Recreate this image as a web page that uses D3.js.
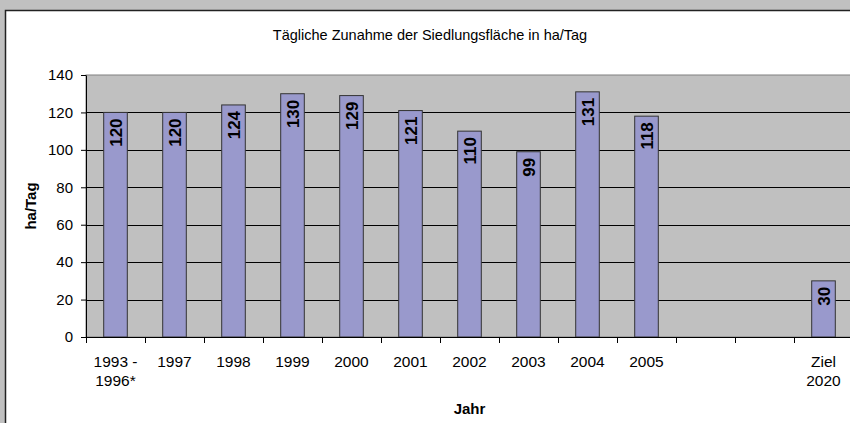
<!DOCTYPE html>
<html>
<head>
<meta charset="utf-8">
<script src="https://cdn.jsdelivr.net/npm/d3@7"></script>
<style>
  body { margin: 0; background: #c0c0c0; }
  svg { display: block; font-family: "Liberation Sans", Arial, sans-serif; }
</style>
</head>
<body>
<svg id="chart" width="850" height="423"></svg>
<script>
const categories = ["1993 -|1996*", "1997", "1998", "1999", "2000", "2001", "2002", "2003", "2004", "2005", "", "", "Ziel|2020"];
const values = [120, 120, 124, 130, 129, 121, 110, 99, 131, 118, null, null, 30];
const yTicks = [0, 20, 40, 60, 80, 100, 120, 140];
const title = "Tägliche Zunahme der Siedlungsfläche in ha/Tag";

const PLOT = { left: 86, right: 853, top: 75, bottom: 337 };

const svg = d3.select("#chart");

// chart area
svg.append("rect")
  .attr("x", 5.5).attr("y", 10.5)
  .attr("width", 900).attr("height", 500)
  .attr("fill", "#fff")
  .attr("stroke", "#222")
  .attr("stroke-width", 1.5);

const x = d3.scaleBand()
  .domain(d3.range(categories.length))
  .range([PLOT.left, PLOT.right])
  .paddingInner(0.6)
  .paddingOuter(0.3);

const y = d3.scaleLinear()
  .domain([0, 140])
  .range([PLOT.bottom, PLOT.top]);

// plot area
svg.append("rect")
  .attr("x", PLOT.left).attr("y", PLOT.top)
  .attr("width", PLOT.right - PLOT.left)
  .attr("height", PLOT.bottom - PLOT.top)
  .attr("fill", "#c0c0c0")
  .attr("stroke", "#808080");

// gridlines
svg.append("g")
  .selectAll("line")
  .data(yTicks.filter(d => d > 0 && d < 140))
  .join("line")
  .attr("x1", PLOT.left).attr("x2", PLOT.right)
  .attr("y1", d => Math.round(y(d)) + 0.5)
  .attr("y2", d => Math.round(y(d)) + 0.5)
  .attr("stroke", "#000");

// bars
const data = values.map((v, i) => ({ i, v })).filter(d => d.v !== null);

svg.append("g")
  .selectAll("rect")
  .data(data)
  .join("rect")
  .attr("x", d => x(d.i))
  .attr("y", d => y(d.v))
  .attr("width", x.bandwidth())
  .attr("height", d => y(0) - y(d.v))
  .attr("fill", "#9999cc")
  .attr("stroke", "#333");

// value labels
svg.append("g")
  .selectAll("text")
  .data(data)
  .join("text")
  .attr("transform", d => `translate(${x(d.i) + x.bandwidth() / 2},${y(d.v) + 6}) rotate(-90)`)
  .attr("text-anchor", "end")
  .attr("dy", "0.36em")
  .attr("font-size", 17)
  .attr("font-weight", "bold")
  .attr("fill", "#000")
  .text(d => d.v);

// y axis
const yAxis = d3.axisLeft(y).tickValues(yTicks).tickSize(5).tickPadding(8).tickSizeOuter(0);
const gy = svg.append("g")
  .attr("transform", `translate(${PLOT.left},0)`)
  .call(yAxis);
gy.select(".domain").attr("stroke", "#000");
gy.selectAll("text").attr("font-size", 15).attr("fill", "#000").attr("font-family", null);
gy.selectAll("line").attr("stroke", "#000");

// x axis
svg.append("line")
  .attr("x1", PLOT.left).attr("x2", PLOT.right)
  .attr("y1", PLOT.bottom + 0.5).attr("y2", PLOT.bottom + 0.5)
  .attr("stroke", "#000");

const step = x.step();
svg.append("g")
  .selectAll("line")
  .data(d3.range(categories.length + 1))
  .join("line")
  .attr("x1", i => Math.round(x.range()[0] + i * step) + 0.5)
  .attr("x2", i => Math.round(x.range()[0] + i * step) + 0.5)
  .attr("y1", PLOT.bottom)
  .attr("y2", PLOT.bottom + 6)
  .attr("stroke", "#000");

const xl = svg.append("g")
  .selectAll("text")
  .data(categories.map((c, i) => ({ c, i })))
  .join("text")
  .attr("x", d => x(d.i) + x.bandwidth() / 2)
  .attr("y", 367)
  .attr("text-anchor", "middle")
  .attr("font-size", 15.5)
  .attr("fill", "#000");

xl.selectAll("tspan")
  .data(d => d.c.split("|").map(s => ({ s, x: x(d.i) + x.bandwidth() / 2 })))
  .join("tspan")
  .attr("x", d => d.x)
  .attr("dy", (d, j) => j === 0 ? 0 : 19)
  .text(d => d.s);

// titles
svg.append("text")
  .attr("x", 430)
  .attr("y", 40)
  .attr("text-anchor", "middle")
  .attr("font-size", 14.5)
  .text(title);

svg.append("text")
  .attr("x", (PLOT.left + PLOT.right) / 2)
  .attr("y", 414)
  .attr("text-anchor", "middle")
  .attr("font-size", 15)
  .attr("font-weight", "bold")
  .text("Jahr");

svg.append("text")
  .attr("transform", `translate(36,${(PLOT.top + PLOT.bottom) / 2}) rotate(-90)`)
  .attr("text-anchor", "middle")
  .attr("font-size", 15)
  .attr("font-weight", "bold")
  .text("ha/Tag");
</script>
</body>
</html>
